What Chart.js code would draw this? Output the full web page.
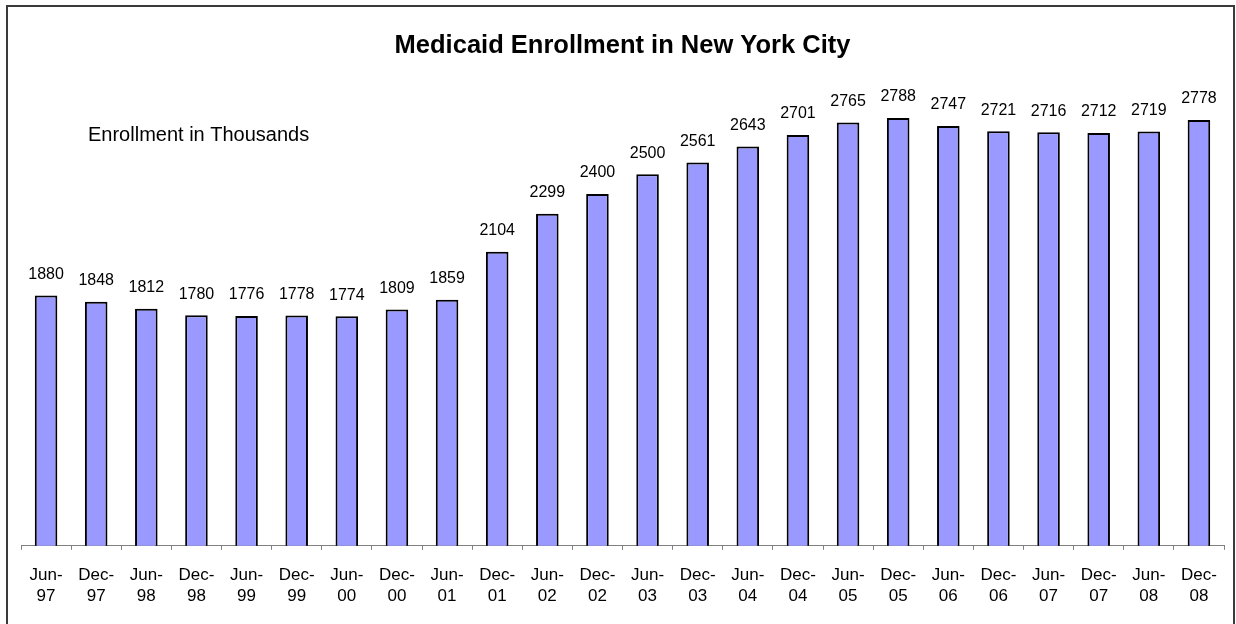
<!DOCTYPE html>
<html>
<head>
<meta charset="utf-8">
<title>Medicaid Enrollment in New York City</title>
<script src="https://cdn.jsdelivr.net/npm/chart.js@4"></script>
<style>
    html, body { margin: 0; padding: 0; background: #fff; overflow: hidden; }
    #frame {
        position: absolute; left: 6px; top: 5px;
        width: 1225px; height: 700px;
        border: 2px solid #3a3a3a;
    }
    #grafico { position: absolute; left: 0; top: 0; }
</style>
</head>
<body>
<div id="frame"></div>
<canvas id="grafico" width="1236" height="624"></canvas>
<script>
// Semesters (month / year) on the x axis
const meses = ['Jun-', 'Dec-', 'Jun-', 'Dec-', 'Jun-', 'Dec-', 'Jun-', 'Dec-', 'Jun-', 'Dec-', 'Jun-', 'Dec-',
               'Jun-', 'Dec-', 'Jun-', 'Dec-', 'Jun-', 'Dec-', 'Jun-', 'Dec-', 'Jun-', 'Dec-', 'Jun-', 'Dec-'];
const anos = ['97', '97', '98', '98', '99', '99', '00', '00', '01', '01', '02', '02',
              '03', '03', '04', '04', '05', '05', '06', '06', '07', '07', '08', '08'];

// Enrollment, in thousands
const inscritos = [1880, 1848, 1812, 1780, 1776, 1778, 1774, 1809, 1859, 2104, 2299, 2400,
                   2500, 2561, 2643, 2701, 2765, 2788, 2747, 2721, 2716, 2712, 2719, 2778];

const fonte = '"Liberation Sans", Arial, sans-serif';

// Value written above each bar
const rotulosBarras = {
    id: 'rotulosBarras',
    afterDatasetsDraw(chart) {
        const ctx = chart.ctx;
        const meta = chart.getDatasetMeta(0);
        ctx.save();
        ctx.font = '16px ' + fonte;
        ctx.fillStyle = '#000';
        ctx.textAlign = 'center';
        ctx.textBaseline = 'middle';
        meta.data.forEach((barra, i) => {
            ctx.fillText(String(inscritos[i]), barra.x, barra.y - 21);
        });
        ctx.restore();
    }
};

// Unit note in the upper left of the plot
const notaUnidade = {
    id: 'notaUnidade',
    afterDraw(chart) {
        const ctx = chart.ctx;
        ctx.save();
        ctx.font = '20px ' + fonte;
        ctx.fillStyle = '#000';
        ctx.textAlign = 'left';
        ctx.textBaseline = 'middle';
        ctx.fillText('Enrollment in Thousands', chart.chartArea.left + 67, 135);
        ctx.restore();
    }
};

new Chart(document.getElementById('grafico').getContext('2d'), {
    type: 'bar',
    data: {
        labels: meses.map((m, i) => [m, anos[i]]),
        datasets: [{
            data: inscritos,
            backgroundColor: '#9999FF',
            borderColor: '#000',
            borderWidth: 2,
            barPercentage: 0.45,
            categoryPercentage: 1
        }]
    },
    options: {
        responsive: false,
        animation: false,
        layout: { padding: { left: 21, right: 12, top: 0, bottom: 2 } },
        plugins: {
            legend: { display: false },
            tooltip: { enabled: false },
            title: {
                display: true,
                text: 'Medicaid Enrollment in New York City',
                color: '#000',
                font: { family: fonte, size: 25.5, weight: 'bold', lineHeight: 1.2 },
                padding: { top: 31, bottom: 15 }
            }
        },
        scales: {
            x: {
                grid: {
                    display: true,
                    offset: true,
                    drawOnChartArea: false,
                    drawTicks: true,
                    tickLength: 4,
                    color: '#808080'
                },
                border: { display: true, color: '#808080', width: 1 },
                ticks: {
                    color: '#000',
                    padding: 15,
                    maxRotation: 0,
                    autoSkip: false,
                    font: { family: fonte, size: 17, lineHeight: 1.24 }
                }
            },
            y: {
                display: false,
                min: 600,
                max: 3000
            }
        }
    },
    plugins: [rotulosBarras, notaUnidade]
});
</script>
</body>
</html>
